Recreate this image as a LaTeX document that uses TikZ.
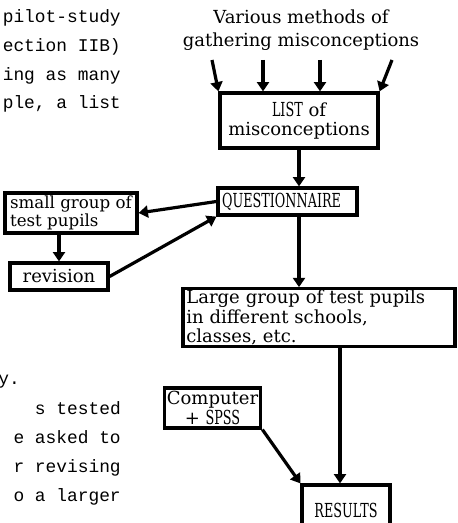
\documentclass[tikz,border=0pt]{standalone}
\usepackage{fontspec}
\usetikzlibrary{arrows.meta}
\newfontfamily\typefont{Liberation Mono}
\newfontfamily\labelfont{DejaVu Serif}
\newfontfamily\capsfont[FakeStretch=0.66]{DejaVu Serif}
\newcommand{\caps}[1]{{\capsfont\fontsize{14.5}{14.5}\selectfont #1}}

\tikzset{
  box/.style={draw, line width=2.4pt, inner sep=2pt, font=\labelfont\fontsize{13.5}{14.5}\selectfont},
  flow/.style={line width=2.4pt, -{Triangle[length=7pt,width=9pt]}},
  margintext/.style={anchor=base east, inner sep=0pt, font=\typefont\fontsize{13.4}{15}\selectfont},
}

\begin{document}
\begin{tikzpicture}[x=0.75pt,y=-0.75pt]
\useasboundingbox (0,0) rectangle (457,523);
\clip (0,0) rectangle (457,523);

% cut-off text of the page
\node[margintext] (p1) at (121,23) {pilot-study};
\node[margintext] (p2) at (121,52) {ection IIB)};
\node[margintext] (p3) at (121,81) {ing as many};
\node[margintext] (p4) at (121,109) {ple, a list};
\node[margintext] (p5) at (20,384) {y.};
\node[margintext] (p6) at (121,414) {s tested};
\node[margintext] (p7) at (121,443) {e asked to};
\node[margintext] (p8) at (121,472) {r revising};
\node[margintext] (p9) at (121,501) {o a larger};

% diagram
\node[align=center, inner sep=0pt, font=\labelfont\fontsize{13.5}{17}\selectfont] (methods) at (301,30)
  {Various methods of\\gathering misconceptions};
\node[box, minimum width=118.5pt, minimum height=41.25pt, align=center] (list) at (299,120.5)
  {\caps{LIST} of\\misconceptions};
\node[box, minimum width=104.25pt, minimum height=20.25pt, text width=98pt, align=left] (quest) at (287.5,201.5)
  {\caps{QUESTIONNAIRE}};
\node[box, minimum width=99pt, minimum height=30pt, align=left, inner sep=1pt,
  font=\labelfont\fontsize{12.5}{14}\selectfont] (small) at (71,213)
  {small group of\\test pupils};
\node[box, minimum width=73.5pt, minimum height=20.25pt, align=center] (revision) at (59,276.5)
  {revision};
\node[box, minimum width=204pt, minimum height=41.25pt, text width=199pt, align=left, inner sep=1pt] (large) at (319,317.5)
  {Large group of test pupils\\in different schools,\\classes, etc.};
\node[box, minimum width=71.25pt, minimum height=30pt, align=center] (computer) at (212.5,408)
  {Computer\\+ \caps{SPSS}};
\node[box, minimum width=66pt, minimum height=37.5pt, align=center] (results) at (346,510)
  {\caps{RESULTS}};

\coordinate (m1) at (212,60);
\coordinate (m2) at (263,60);
\coordinate (m3) at (320,60);
\coordinate (m4) at (392,60);

\draw[flow] (m1) -- (list.north west);
\draw[flow] (m2) -- (m2 |- list.north);
\draw[flow] (m3) -- (m3 |- list.north);
\draw[flow] (m4) -- (list.north east);
\draw[flow] (list.south) -- (list.south |- quest.north);
\draw[flow] (quest.west) -- (small.east);
\draw[flow] (revision.north |- small.south) -- (revision.north);
\draw[flow] (revision.east) -- (quest.south west);
\draw[flow] (list.south |- quest.south) -- (list.south |- large.north);
\draw[flow] ([xshift=-4.5pt]large.south -| results.north) -- ([xshift=-4.5pt]results.north);
\draw[flow] (computer.south east) -- (results.north west);
\end{tikzpicture}
\end{document}
